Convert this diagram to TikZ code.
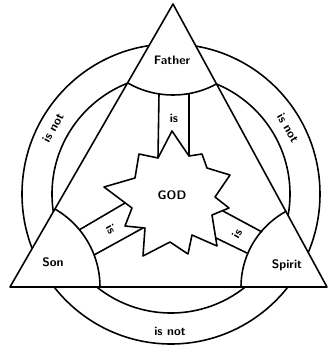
\documentclass[tikz,border=0pt]{standalone}
\usetikzlibrary{positioning}
\tikzset{
  ink/.style={draw=black,line width=0.9pt,line join=round},
  lbl/.style={font=\sffamily\bfseries\scriptsize,inner sep=1pt},
}
\begin{document}
\begin{tikzpicture}[x=0.02cm,y=-0.02cm]
  \useasboundingbox (0,0) rectangle (328,346);
  % the two rings round the centre
  \coordinate (ctr) at (171,194);
  \draw[ink] (ctr) ellipse [x radius=149, y radius=150];
  \draw[ink] (ctr) ellipse [x radius=119, y radius=119];
  % triangle and its corners
  \coordinate (fv) at (173,4);
  \coordinate (sv) at (10,287);
  \coordinate (pv) at (327,287);
  \fill[white] (fv) -- (sv) -- (pv) -- cycle;
  \begin{scope}
    \clip (fv) -- (sv) -- (pv) -- cycle;
    \draw[ink] (fv) circle (91);
    \draw[ink] (sv) circle (90);
    \draw[ink] (pv) circle (86);
  \end{scope}
  \draw[ink] (fv) -- (sv) -- (pv) -- cycle;
  % the star in the middle
  \draw[ink,fill=white] (172,131) -- (189,156) -- (202,154) -- (207,168)
    -- (230,175) -- (215,197) -- (229,208) -- (212,215) -- (217,246)
    -- (192,235) -- (188,254) -- (170,242) -- (143,256) -- (145,228)
    -- (125,226) -- (132,208) -- (104,187) -- (135,178) -- (139,154)
    -- (158,158) -- cycle;
  \node[lbl] (god) at (172,195) {GOD};
  % bands from each corner to the star
  \coordinate (fa1) at (159,94);   \coordinate (fb1) at (158,158);
  \coordinate (fa2) at (189,94);   \coordinate (fb2) at (189,156);
  \coordinate (sa1) at (79,230);   \coordinate (sb1) at (125,203);
  \coordinate (sa2) at (94,255);   \coordinate (sb2) at (143,228);
  \coordinate (pa1) at (262,232);  \coordinate (pb1) at (223,211);
  \coordinate (pa2) at (247,253);  \coordinate (pb2) at (216,238);
  \draw[ink] (fa1) -- (fb1) (fa2) -- (fb2);
  \draw[ink] (sa1) -- (sb1) (sa2) -- (sb2);
  \draw[ink] (pa1) -- (pb1) (pa2) -- (pb2);
  \node[lbl] (fis) at (174,118) {is};
  \node[lbl,rotate=-60] (sis) at (111,229) {is};
  \node[lbl,rotate=60] (pis) at (237,234) {is};
  % corner names
  \node[lbl] (father) at (172,60) {Father};
  \node[lbl] (son) at (53,262) {Son};
  \node[lbl] (spirit) at (287,265) {Spirit};
  % between the rings
  \node[lbl,rotate=61] (lnot) at (53,128) {is not};
  \node[lbl,rotate=-60] (rnot) at (288,128) {is not};
  \node[lbl] (bnot) at (170,331) {is not};
\end{tikzpicture}
\end{document}
